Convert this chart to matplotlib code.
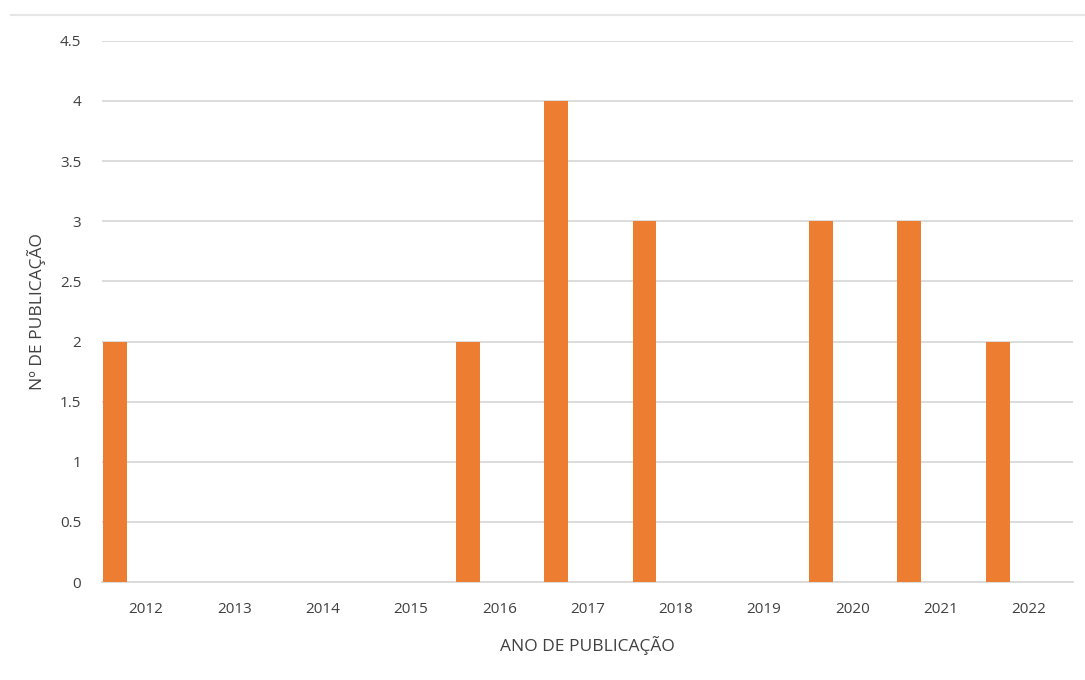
import matplotlib
matplotlib.use("Agg")
import matplotlib.pyplot as plt
import numpy as np
from matplotlib.lines import Line2D

# Data
years = ["2012", "2013", "2014", "2015", "2016", "2017",
         "2018", "2019", "2020", "2021", "2022"]
publications = [2, 0, 0, 0, 2, 4, 3, 0, 3, 3, 2]
y_ticks = [0, 0.5, 1, 1.5, 2, 2.5, 3, 3.5, 4, 4.5]
y_tick_labels = ["0", "0.5", "1", "1.5", "2", "2.5", "3", "3.5", "4", "4.5"]

BAR_COLOR = "#ED7D31"
GRID_COLOR = "#D9D9D9"
TEXT_COLOR = "#404040"

plt.rcParams["font.family"] = ["Open Sans", "DejaVu Sans"]

fig = plt.figure(figsize=(10.85, 6.8), dpi=100)
ax = fig.add_axes([0.094, 0.144, 0.895, 0.796])

x = np.arange(len(years))
# bars sit at the left of each category slot, like the first series of a cluster
ax.bar(x - 0.355, publications, width=0.27, color=BAR_COLOR, zorder=3)

ax.set_xlim(-0.5, len(years) - 0.5)
ax.set_ylim(0, 4.5)
ax.set_xticks(x)
ax.set_xticklabels(years)
ax.set_yticks(y_ticks)
ax.set_yticklabels(y_tick_labels)
ax.tick_params(length=0, colors=TEXT_COLOR, labelsize=11)
ax.tick_params(axis="x", pad=14)
ax.tick_params(axis="y", pad=15)

ax.yaxis.grid(True, color=GRID_COLOR, linewidth=1.3, zorder=0)
for side in ["top", "right", "left"]:
    ax.spines[side].set_visible(False)
ax.spines["bottom"].set_color(GRID_COLOR)
ax.spines["bottom"].set_linewidth(1.3)

ax.set_xlabel("ANO DE PUBLICAÇÃO", color=TEXT_COLOR, fontsize=12.5, labelpad=14)
ax.set_ylabel("Nº DE PUBLICAÇÃO", color=TEXT_COLOR, fontsize=12.5)
ax.yaxis.set_label_coords(-0.058, 0.5)

# light frame line across the top of the chart area
fig.add_artist(Line2D([0.01, 1.0], [0.978, 0.978], color="#E6E6E6",
                      linewidth=1.5, transform=fig.transFigure))

fig.savefig("out.png", dpi=100)
